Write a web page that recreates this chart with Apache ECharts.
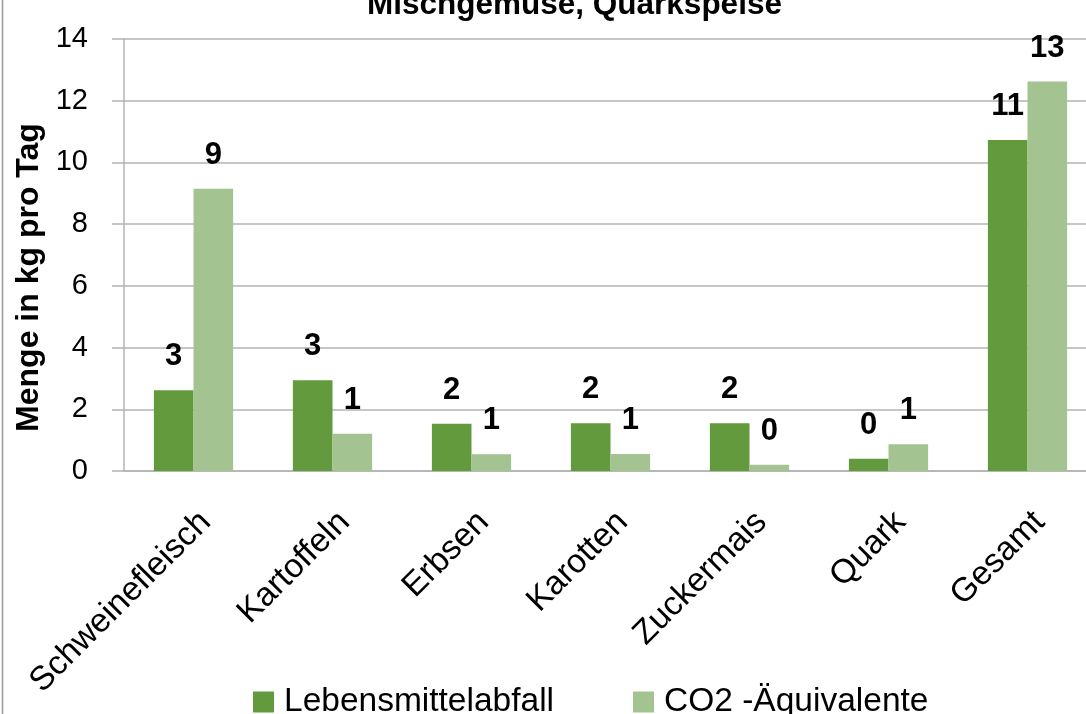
<!DOCTYPE html>
<html>
<head>
<meta charset="utf-8">
<script src="https://cdn.jsdelivr.net/npm/echarts@6/dist/echarts.min.js"></script>
<style>html,body{margin:0;padding:0;background:#fff;overflow:hidden}#c{width:1097px;height:714px}</style>
</head>
<body>
<div id="c"></div>
<script>
const categories = ['Schweinefleisch', 'Kartoffeln', 'Erbsen', 'Karotten', 'Zuckermais', 'Quark', 'Gesamt'];
const seriesNames = ['Lebensmittelabfall', 'CO2 -Äquivalente'];
const abfall = [2.62, 2.94, 1.53, 1.55, 1.55, 0.40, 10.73];
const co2 = [9.15, 1.21, 0.54, 0.55, 0.20, 0.87, 12.62];
const yTicks = [0, 2, 4, 6, 8, 10, 12, 14];
const titleText = 'Mischgemüse, Quarkspeise';
const yName = 'Menge in kg pro Tag';

const chart = echarts.init(document.getElementById('c'));
const gray = '#b3b3b3';
const lbl = {
  show: true, position: 'top', distance: 18,
  fontFamily: 'Liberation Sans', fontWeight: 'bold', fontSize: 31, color: '#000',
  formatter: p => Math.round(p.value)
};
chart.setOption({
  animation: false,
  backgroundColor: '#fff',
  title: {
    text: titleText, left: 362, top: -16,
    textStyle: { fontFamily: 'Liberation Sans', fontWeight: 'bold', fontSize: 31.5, color: '#000' }
  },
  legend: {
    data: seriesNames, left: 248, top: 680, itemWidth: 21, itemHeight: 21, itemGap: 79,
    icon: 'rect',
    textStyle: { fontFamily: 'Liberation Sans', fontSize: 33.5, color: '#000', padding: [0, 0, 0, 5] }
  },
  grid: { left: 124, top: 39, width: 973, height: 432, containLabel: false },
  xAxis: {
    type: 'category', data: categories,
    axisLine: { lineStyle: { color: gray, width: 1.5 } },
    axisTick: { length: 13, lineStyle: { color: gray, width: 1.5 } },
    axisLabel: { rotate: 45, margin: 34, verticalAlign: 'top', fontFamily: 'Liberation Sans', fontSize: 33.5, color: '#000', interval: 0 }
  },
  yAxis: {
    type: 'value', min: yTicks[0], max: yTicks[yTicks.length - 1], interval: 2,
    name: yName, nameLocation: 'middle', nameRotate: 90, nameGap: 74,
    nameTextStyle: { fontFamily: 'Liberation Sans', fontWeight: 'bold', fontSize: 32, color: '#000', padding: [0, 45, 0, 0] },
    axisLine: { show: true, lineStyle: { color: gray, width: 1.5 } },
    axisTick: { show: true, length: 12, lineStyle: { color: gray, width: 1.5 } },
    splitLine: { lineStyle: { color: gray, width: 1.5 } },
    axisLabel: { margin: 36, fontFamily: 'Liberation Sans', fontSize: 29, color: '#000' }
  },
  series: [
    { name: seriesNames[0], type: 'bar', data: abfall, barGap: '0%', barCategoryGap: '43%',
      itemStyle: { color: '#639a3e' }, label: lbl },
    { name: seriesNames[1], type: 'bar', data: co2,
      itemStyle: { color: '#a3c490' }, label: lbl }
  ],
  graphic: [
    { type: 'line', shape: { x1: 2.5, y1: 0, x2: 2.5, y2: 714 }, style: { stroke: '#999', lineWidth: 1.5 } }
  ]
});
</script>
</body>
</html>
